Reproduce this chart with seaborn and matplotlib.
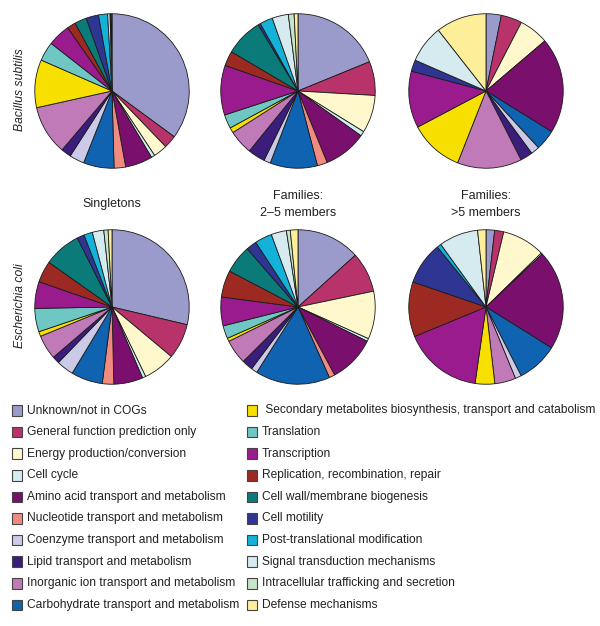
import matplotlib
matplotlib.use("Agg")
import matplotlib.pyplot as plt
from matplotlib.patches import Rectangle
import seaborn as sns

# Categories in the order the slices run (clockwise from 12 o'clock)
categories = [
    "Unknown/not in COGs",
    "General function prediction only",
    "Energy production/conversion",
    "Cell cycle",
    "Amino acid transport and metabolism",
    "Nucleotide transport and metabolism",
    "Carbohydrate transport and metabolism",
    "Coenzyme transport and metabolism",
    "Lipid transport and metabolism",
    "Inorganic ion transport and metabolism",
    " Secondary metabolites biosynthesis, transport and catabolism",
    "Translation",
    "Transcription",
    "Replication, recombination, repair",
    "Cell wall/membrane biogenesis",
    "Cell motility",
    "Post-translational modification",
    "Signal transduction mechanisms",
    "Intracellular trafficking and secretion",
    "Defense mechanisms",
]

colors = [
    "#9b9bcb", "#b8336a", "#fff8cc", "#d2ecef", "#7b0f6e",
    "#f28b7f", "#0f63b0", "#cbcbe8", "#3b1d7c", "#c07ab8",
    "#f7e000", "#6fc7c3", "#9a1b8e", "#9c2a22", "#0a7b78",
    "#2f3592", "#14b1d9", "#d5ebef", "#c6e5c9", "#fdee9a",
]

# Legend order (left column, then right column), as indices into categories
legend_order = [0, 1, 2, 3, 4, 5, 7, 8, 9, 6,
                10, 11, 12, 13, 14, 15, 16, 17, 18, 19]

# Percentages per pie (category order above)
bs_singletons = [35.0, 2.7, 2.9, 0.75, 5.7, 2.4, 6.4, 3.1, 2.1, 10.3,
                 10.0, 4.0, 4.7, 1.8, 2.5, 2.6, 1.9, 0.5, 0.2, 0.2]
bs_fam_2_5 = [18.8, 7.1, 7.9, 1.0, 9.0, 2.1, 9.9, 1.4, 3.6, 5.1,
              1.1, 2.9, 10.4, 3.1, 7.9, 0.5, 2.7, 3.4, 1.2, 0.8]
bs_fam_gt5 = [3.2, 4.4, 6.2, 0.0, 20.1, 0.0, 4.3, 1.8, 2.6, 13.5,
              11.3, 0.0, 11.9, 0.0, 0.0, 2.4, 0.0, 7.9, 0.0, 10.6]
ec_singletons = [28.7, 7.4, 6.75, 0.7, 6.1, 2.4, 6.6, 3.6, 1.5, 5.1,
                 1.0, 4.9, 5.6, 4.5, 7.8, 1.5, 1.8, 2.4, 0.9, 0.8]
ec_fam_2_5 = [13.3, 8.4, 10.0, 0.6, 9.8, 1.2, 15.6, 1.3, 2.3, 5.1,
              0.7, 2.7, 6.0, 5.6, 5.9, 2.2, 3.6, 3.2, 0.8, 1.6]
ec_fam_gt5 = [1.8, 1.9, 9.0, 0.3, 20.9, 0.0, 8.6, 1.3, 0.0, 4.4,
              4.1, 0.0, 16.5, 11.5, 0.0, 8.9, 0.9, 8.2, 0.0, 1.75]

col_titles = ["Singletons", "Families:\n2\u20135 members", "Families:\n>5 members"]
row_titles = ["Bacillus subtilis", "Escherichia coli"]

sns.set_style("white")
plt.rcParams["font.family"] = ["Liberation Sans", "DejaVu Sans"]
palette = sns.color_palette(colors)

W, H = 600, 626
fig = plt.figure(figsize=(W / 100, H / 100), dpi=100)

centers_x = [112, 298, 486]
centers_y = [91, 307]
R = 78

pies = [[bs_singletons, bs_fam_2_5, bs_fam_gt5],
        [ec_singletons, ec_fam_2_5, ec_fam_gt5]]

for r in range(2):
    for c in range(3):
        vals = pies[r][c]
        v = [x for x in vals if x > 0]
        cl = [palette[i] for i, x in enumerate(vals) if x > 0]
        cx, cy = centers_x[c], centers_y[r]
        ax = fig.add_axes([(cx - R) / W, 1 - (cy + R) / H, 2 * R / W, 2 * R / H])
        ax.pie(v, colors=cl, startangle=90, counterclock=False, radius=1,
               wedgeprops=dict(edgecolor="#1a1a1a", linewidth=0.6))
        ax.set_xlim(-1.01, 1.01)
        ax.set_ylim(-1.01, 1.01)
        ax.set_aspect("equal")
        ax.axis("off")

# Column titles
for c, t in enumerate(col_titles):
    fig.text(centers_x[c] / W, 1 - 204.5 / H, t, ha="center", va="center",
             fontsize=9, color="#222222", linespacing=1.45)

# Row titles
for r, t in enumerate(row_titles):
    fig.text(20 / W, 1 - (centers_y[r] - 1) / H, t, ha="center", va="center",
             rotation=90, fontsize=8.7, style="italic", color="#222222")

# Legend
row_y = [410.5 + k * 21.6 for k in range(10)]
col_sw_x = [11.5, 246.5]
col_tx_x = [27, 262]
sw = 10.5
for k, idx in enumerate(legend_order):
    col = k // 10
    row = k % 10
    y = row_y[row]
    x = col_sw_x[col]
    fig.patches.append(Rectangle((x / W, 1 - (y + sw / 2) / H), sw / W, sw / H,
                                 transform=fig.transFigure, facecolor=palette[idx],
                                 edgecolor="#444444", linewidth=0.8))
    fig.text(col_tx_x[col] / W, 1 - y / H, categories[idx], ha="left", va="center",
             fontsize=8.62, color="#222222")

fig.savefig("out.png", dpi=100)
